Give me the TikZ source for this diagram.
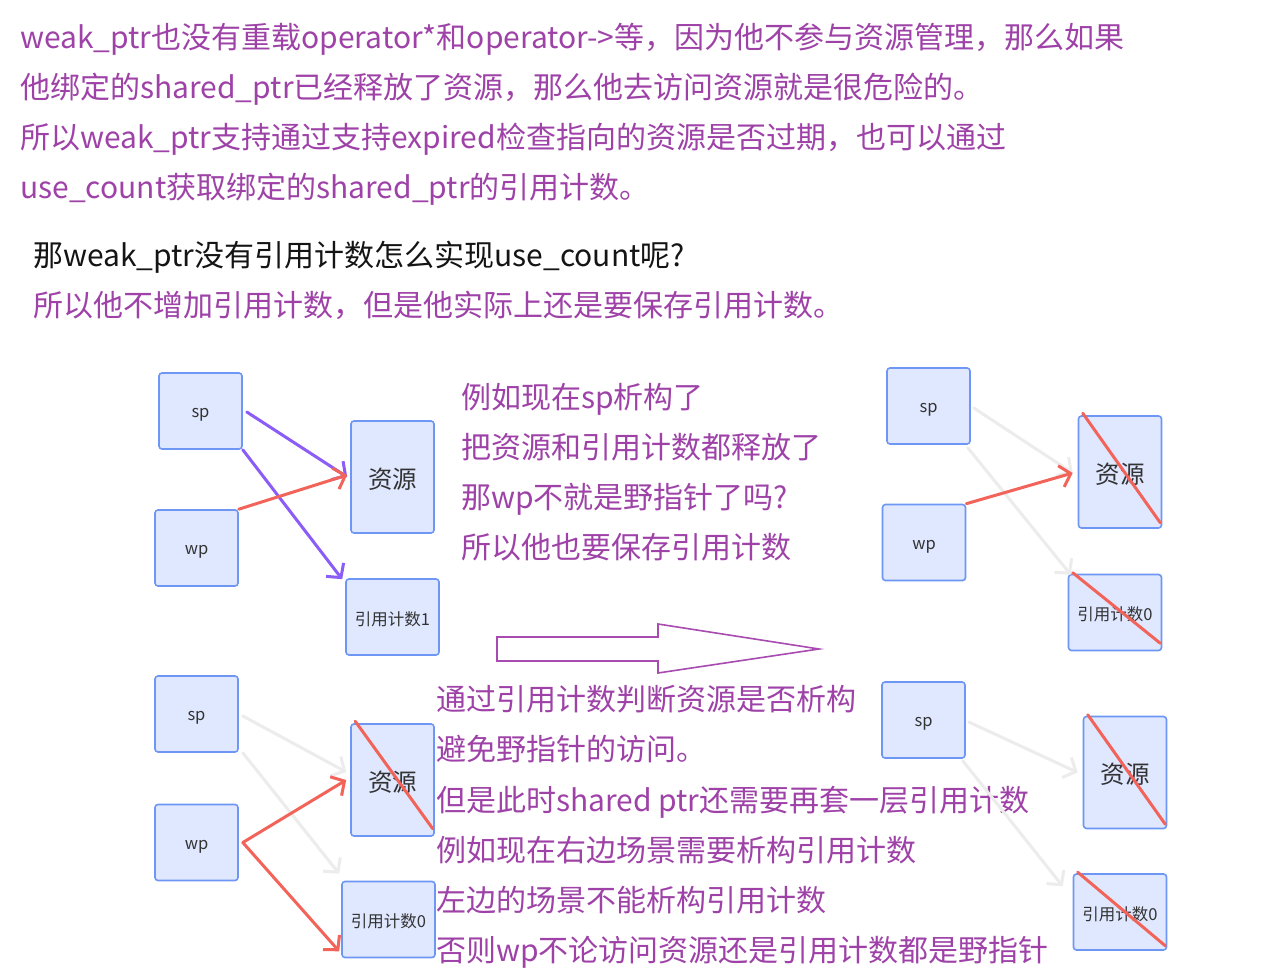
\documentclass[tikz,border=0pt]{standalone}
\usepackage{fontspec}
\setmainfont{Noto Sans CJK SC}
\usetikzlibrary{arrows.meta,calc}
\definecolor{txtpurple}{RGB}{158,66,168}
\definecolor{txtblack}{RGB}{20,20,20}
\definecolor{violetarr}{RGB}{139,92,246}
\definecolor{redarr}{RGB}{242,100,90}
\definecolor{grayarr}{RGB}{236,236,236}
\definecolor{boxfill}{RGB}{224,232,255}
\definecolor{boxdraw}{RGB}{110,150,245}
\definecolor{labelc}{RGB}{51,51,51}
\definecolor{hollow}{RGB}{168,75,176}
\tikzset{
  para/.style={anchor=base west, inner sep=0pt, text=txtpurple, font=\fontsize{30}{31}\selectfont},
  parablack/.style={para, text=txtblack},
  box/.style={draw=boxdraw, fill=boxfill, line width=1.6pt, rounded corners=3pt, inner sep=0pt, text=labelc, font=\fontsize{16.5}{18}\selectfont, text depth=0pt},
  smallbox/.style={box, minimum width=83pt, minimum height=76pt, text height=13pt},
  resbox/.style={box, minimum width=83pt, minimum height=112pt, font=\fontsize{24.5}{26}\selectfont, text height=22.5pt},
  cntbox/.style={box, minimum width=93pt, minimum height=76pt, text height=16.5pt},
  chev/.style={-{Straight Barb[length=10pt,width=22pt,line width=3pt]}, line width=3pt, line cap=round},
  violetline/.style={chev, draw=violetarr},
  redline/.style={chev, draw=redarr},
  grayline/.style={chev, draw=grayarr},
  strike/.style={draw=redarr, line width=3pt, line cap=round},
}
\begin{document}
\begin{tikzpicture}[x=1pt,y=-1pt]
\path[fill=white] (0,0) rectangle (1285,973);
\useasboundingbox (0,0) rectangle (1285,973);

% top text
\node[para] (t1) at (20,49) {weak\_ptr也没有重载operator*和operator->等，因为他不参与资源管理，那么如果};
\node[para] (t2) at (20,99) {他绑定的shared\_ptr已经释放了资源，那么他去访问资源就是很危险的。};
\node[para] (t3) at (20,149) {所以weak\_ptr支持通过支持expired检查指向的资源是否过期，也可以通过};
\node[para] (t4) at (20,199) {use\_count获取绑定的shared\_ptr的引用计数。};
\node[parablack] (t5) at (33,267) {那weak\_ptr没有引用计数怎么实现use\_count呢?};
\node[para] (t6) at (33,317) {所以他不增加引用计数，但是他实际上还是要保存引用计数。};

% middle text
\node[para] (m1) at (461,409) {例如现在sp析构了};
\node[para] (m2) at (461,458) {把资源和引用计数都释放了};
\node[para] (m3) at (461,508) {那wp不就是野指针了吗?};
\node[para] (m4) at (461,558) {所以他也要保存引用计数};

% bottom text
\node[para] (b1) at (436,710) {通过引用计数判断资源是否析构};
\node[para] (b2) at (436,760) {避免野指针的访问。};
\node[para] (b3) at (436,811) {但是此时shared ptr还需要再套一层引用计数};
\node[para] (b4) at (436,861) {例如现在右边场景需要析构引用计数};
\node[para] (b5) at (436,911) {左边的场景不能析构引用计数};
\node[para] (b6) at (436,961) {否则wp不论访问资源还是引用计数都是野指针};

% quadrant 1 (top-left)
\node[smallbox] (sp1) at (200.5,411) {sp};
\node[resbox] (res1) at (392.5,477) {资源};
\node[smallbox] (wp1) at (196.5,548) {wp};
\node[cntbox] (cnt1) at (392.5,617) {引用计数1};
\draw[violetline] ($(sp1.east)+(4,1)$) -- ($(res1.west)+(-3,0)$);
\draw[violetline] (sp1.south east) -- ($(cnt1.north west)+(-3,1)$);
\draw[redline] (wp1.north east) -- ($(res1.west)+(-3,-2)$);

% quadrant 2 (top-right)
\node[smallbox] (sp2) at (928.5,406) {sp};
\node[resbox] (res2) at (1120,472) {资源};
\node[smallbox] (wp2) at (924,542.5) {wp};
\node[cntbox] (cnt2) at (1115,612.5) {引用计数0};
\draw[grayline] ($(sp2.east)+(3,2)$) -- ($(res2.west)+(-5,1)$);
\draw[grayline] ($(sp2.south east)+(-3,3)$) -- ($(cnt2.north west)+(3,1)$);
\draw[redline] (wp2.north east) -- ($(res2.west)+(-5,1)$);
\draw[strike] ($(res2.north west)+(5,-2)$) -- ($(res2.south east)+(-2,-6)$);
\draw[strike] ($(cnt2.north west)+(5,-1)$) -- ($(cnt2.south east)+(-2,-8)$);

% quadrant 3 (bottom-left)
\node[smallbox] (sp3) at (196.5,714) {sp};
\node[resbox] (res3) at (392.5,780) {资源};
\node[smallbox] (wp3) at (196.5,842.5) {wp};
\node[cntbox] (cnt3) at (388.5,919.5) {引用计数0};
\draw[grayline] ($(sp3.east)+(4,2)$) -- ($(res3.west)+(-4,-8)$);
\draw[grayline] ($(sp3.south east)+(4,0)$) -- ($(cnt3.north west)+(-2,-7)$);
\draw[redline] ($(wp3.east)+(4,0)$) -- ($(res3.west)+(-4,0)$);
\draw[redline] ($(wp3.east)+(4,0)$) -- ($(cnt3.south west)+(-2,-7)$);
\draw[strike] ($(res3.north west)+(5,-2)$) -- ($(res3.south east)+(-2,-8)$);

% quadrant 4 (bottom-right)
\node[smallbox] (sp4) at (923.5,720) {sp};
\node[resbox] (res4) at (1125,772.5) {资源};
\node[cntbox] (cnt4) at (1120,912) {引用计数0};
\draw[grayline] ($(sp4.east)+(3,2)$) -- ($(res4.west)+(-5,0)$);
\draw[grayline] ($(sp4.south east)+(-3,2)$) -- ($(cnt4.north west)+(-10,13)$);
\draw[strike] ($(res4.north west)+(5,-1)$) -- ($(res4.south east)+(-2,-5)$);
\draw[strike] ($(cnt4.north west)+(5,-1)$) -- ($(cnt4.south east)+(-2,-5)$);

% hollow arrow
\draw[hollow, line width=1.6pt, line join=miter]
  (497,637) -- (658,637) -- (658,624) -- (819,649) -- (658,673) -- (658,661) -- (497,661) -- cycle;
\end{tikzpicture}
\end{document}
